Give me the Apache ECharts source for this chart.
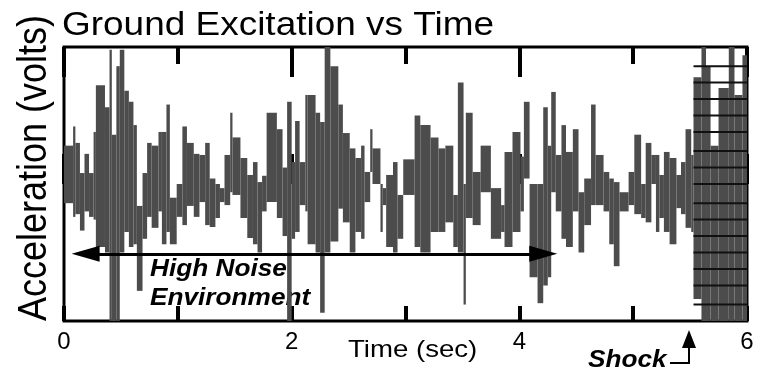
<!DOCTYPE html>
<html>
<head>
<meta charset="utf-8">
<script src="https://cdn.jsdelivr.net/npm/echarts@6/dist/echarts.min.js"></script>
<style>
html,body{margin:0;padding:0;background:#fff;}
#chart{width:761px;height:367px;}
</style>
</head>
<body>
<div id="chart"></div>
<script>
// ---- Data ----
// Start time (sec) of each envelope segment; each segment ends where the next begins.
const segStart = [0.00,0.08,0.10,0.14,0.18,0.22,0.26,0.28,0.36,0.40,0.42,0.46,0.49,0.53,0.57,0.61,0.64,0.69,0.73,0.77,
  0.83,0.86,0.90,0.93,0.99,1.04,1.08,1.14,1.19,1.24,1.28,1.33,1.37,1.41,1.46,1.48,1.55,1.61,1.66,1.70,
  1.74,1.78,1.87,1.92,1.96,2.00,2.03,2.07,2.12,2.14,2.21,2.25,2.29,2.34,2.41,2.45,2.51,2.56,2.61,2.64,
  2.69,2.71,2.78,2.80,2.83,2.89,2.93,2.98,3.08,3.13,3.22,3.29,3.35,3.42,3.46,3.51,3.53,3.59,3.66,3.75,
  3.84,3.87,3.94,4.01,4.04,4.09,4.16,4.21,4.25,4.28,4.32,4.37,4.41,4.47,4.52,4.57,4.63,4.67,4.74,4.79,
  4.83,4.88,4.96,5.01,5.07,5.11,5.16,5.20,5.23,5.27,5.32,5.38,5.42,5.46,5.51,5.53,5.60,5.64,5.68,5.75,
  5.84,5.89,5.96];
const segEnd = 6.0;
// Envelope maxima (volts)
const segHigh = [1.4,2.1,1.5,0.4,1.1,0.4,1.9,3.6,2.8,4.9,1.8,4.3,4.9,3.4,3.0,2.15,-0.8,0.4,1.5,1.4,
  1.9,1.9,2.9,-0.5,0.0,2.1,1.5,1.1,1.06,1.5,0.2,0.0,-0.15,1.06,2.6,1.7,0.95,0.33,0.8,0.07,
  0.3,2.6,2.0,0.6,3.0,0.8,2.3,0.8,3.25,3.25,2.6,2.26,5.0,4.3,2.9,1.86,1.3,0.95,1.4,0.44,
  2.0,1.3,0.0,-0.15,0.33,0.8,-0.4,0.9,2.5,2.15,1.7,1.3,1.4,-0.4,3.7,0.0,2.6,0.44,1.4,-0.15,
  -0.77,1.17,1.9,1.0,3.0,0.0,0.0,2.8,1.4,3.36,1.06,2.15,1.17,2.0,-0.3,0.2,2.9,1.06,0.44,0.2,
  0.07,-0.3,0.44,1.8,0.0,1.5,1.06,1.06,0.33,1.17,0.95,0.33,0.8,2.0,1.06,3.9,5.0,4.3,1.4,3.5,
  5.0,3.25,4.7];
// Envelope minima (volts)
const segLow = [-0.7,-1.2,-1.1,-1.7,-1.0,-1.2,-1.3,-2.3,-2.5,-5.0,-5.0,-5.0,-2.5,-1.75,-2.3,-2.2,-3.9,-2.0,-1.2,-1.6,
  -1.0,-2.2,-1.75,-2.2,-1.2,-1.5,-0.8,-1.2,-0.66,-1.5,-1.57,-1.24,-0.66,-0.77,-0.3,-0.4,-1.24,-1.97,-2.2,-2.5,
  -1.0,-0.66,-1.24,-1.9,-5.0,-2.0,-1.75,-0.77,-1.0,-2.2,-2.5,-4.7,-2.5,-2.1,-0.9,-1.4,-2.5,-1.75,-2.0,-0.66,
  0.44,0.0,-1.75,-0.77,-2.3,-2.5,-2.0,-0.4,-2.3,-2.5,-1.75,-1.75,-1.4,-2.3,-2.5,-4.4,-1.24,-1.5,-0.3,-2.0,
  -1.75,-2.3,-1.75,-1.0,0.2,-3.4,-4.35,-3.7,-3.4,-0.3,-1.0,-2.0,-2.3,-1.0,-2.5,-1.5,-0.77,-0.77,-1.0,-2.2,
  -3.0,-1.0,-0.77,-1.1,-1.24,-1.4,0.0,-1.75,-1.24,-1.75,-2.2,-0.88,-1.1,-1.6,-1.75,-4.2,-5.0,-5.0,-5.0,-5.0,
  -5.0,-5.0,-5.0];
// Horizontal trace levels in the shock region (volts)
const shockLevels = [4.3,3.7,3.1,2.5,1.9,1.2,0.6,0.0,-0.7,-1.3,-1.9,-2.5,-3.1,-3.7,-4.4];
const shockSpan = [5.53, 6.0];
// Axis tick labels
const majorTicks = ['0','2','4','6'];

// ---- Build ----
const envData = segStart.map((t, i) => [t, i + 1 < segStart.length ? segStart[i + 1] : segEnd, segLow[i], segHigh[i]]);
const shockData = shockLevels.map(v => [shockSpan[0], shockSpan[1], v]);

const chart = echarts.init(document.getElementById('chart'), null, {renderer: 'canvas'});
const FONT = '"Liberation Sans", Arial, Helvetica, sans-serif';

const xBase = {type: 'value', min: 0, max: 6, axisLine: {show: false}, splitLine: {show: false}};
const option = {
  animation: false,
  backgroundColor: '#fff',
  grid: {left: 64, right: 14, top: 47, bottom: 46, show: true, borderColor: '#000', borderWidth: 3, backgroundColor: 'transparent'},
  xAxis: [
    Object.assign({}, xBase, {position: 'bottom', interval: 2,
      axisTick: {show: true, inside: true, length: 30, lineStyle: {color: '#000', width: 4}},
      axisLabel: {show: true, color: '#000', fontSize: 24, fontFamily: FONT, margin: 9,
        formatter: v => majorTicks[Math.round(v / 2)]}}),
    Object.assign({}, xBase, {position: 'bottom', interval: 1,
      axisTick: {show: true, inside: true, length: 15, lineStyle: {color: '#000', width: 4}},
      axisLabel: {show: false}}),
    Object.assign({}, xBase, {position: 'top', interval: 2,
      axisTick: {show: true, inside: true, length: 30, lineStyle: {color: '#000', width: 4}},
      axisLabel: {show: false}}),
    Object.assign({}, xBase, {position: 'top', interval: 1,
      axisTick: {show: true, inside: true, length: 17, lineStyle: {color: '#000', width: 4}},
      axisLabel: {show: false}})
  ],
  yAxis: {type: 'value', min: -5, max: 5, axisLine: {show: false}, axisTick: {show: false},
    axisLabel: {show: false}, splitLine: {show: false}},
  series: [
    {
      type: 'custom', xAxisIndex: 0, clip: true,
      encode: {x: [0, 1], y: [2, 3]},
      data: envData,
      renderItem: function (params, api) {
        const p0 = api.coord([api.value(0), api.value(3)]);
        const p1 = api.coord([api.value(1), api.value(2)]);
        return {type: 'rect', shape: {x: p0[0], y: p0[1], width: p1[0] - p0[0], height: p1[1] - p0[1]},
          style: {fill: '#4c4c4c'}};
      }
    },
    {
      type: 'custom', xAxisIndex: 0, clip: true,
      encode: {x: [0, 1], y: 2},
      data: shockData,
      renderItem: function (params, api) {
        const a = api.coord([api.value(0), api.value(2)]);
        const b = api.coord([api.value(1), api.value(2)]);
        return {type: 'line', shape: {x1: a[0], y1: a[1], x2: b[0], y2: b[1]},
          style: {stroke: '#111', lineWidth: 2}};
      }
    },
    {
      type: 'line', xAxisIndex: 0, data: [], silent: true,
      markLine: {
        silent: true, symbol: ['triangle', 'triangle'], symbolSize: [16, 28],
        label: {show: false},
        lineStyle: {color: '#000', width: 3, type: 'solid'},
        data: [[{coord: [0.19, -2.55]}, {coord: [4.21, -2.55]}]]
      }
    }
  ],
  graphic: [
    {type: 'text', x: 62, y: 26, scaleX: 1.12, style: {text: 'Ground Excitation vs Time', font: '33px ' + FONT, fill: '#000', align: 'left', verticalAlign: 'middle'}},
    {type: 'text', x: 35, y: 168, rotation: Math.PI / 2, scaleY: 1.15, style: {text: 'Acceleration (volts)', font: '36px ' + FONT, fill: '#000', align: 'center', verticalAlign: 'middle'}},
    {type: 'text', x: 348, y: 350, scaleX: 1.15, style: {text: 'Time (sec)', font: '24px ' + FONT, fill: '#000', align: 'left', verticalAlign: 'middle'}},
    {type: 'text', x: 150, y: 270, scaleX: 1.14, style: {text: 'High Noise', font: 'italic bold 23px ' + FONT, fill: '#000', align: 'left', verticalAlign: 'middle'}},
    {type: 'text', x: 150, y: 299, scaleX: 1.14, style: {text: 'Environment', font: 'italic bold 23px ' + FONT, fill: '#000', align: 'left', verticalAlign: 'middle'}},
    {type: 'text', x: 588, y: 361, scaleX: 1.14, style: {text: 'Shock', font: 'italic bold 23px ' + FONT, fill: '#000', align: 'left', verticalAlign: 'middle'}},
    {type: 'polyline', shape: {points: [[670, 363], [689, 363], [689, 345]]}, style: {stroke: '#000', lineWidth: 2, fill: null}},
    {type: 'polygon', shape: {points: [[689, 330], [682, 348], [696, 348]]}, style: {fill: '#000'}}
  ]
};
chart.setOption(option);
</script>
</body>
</html>
